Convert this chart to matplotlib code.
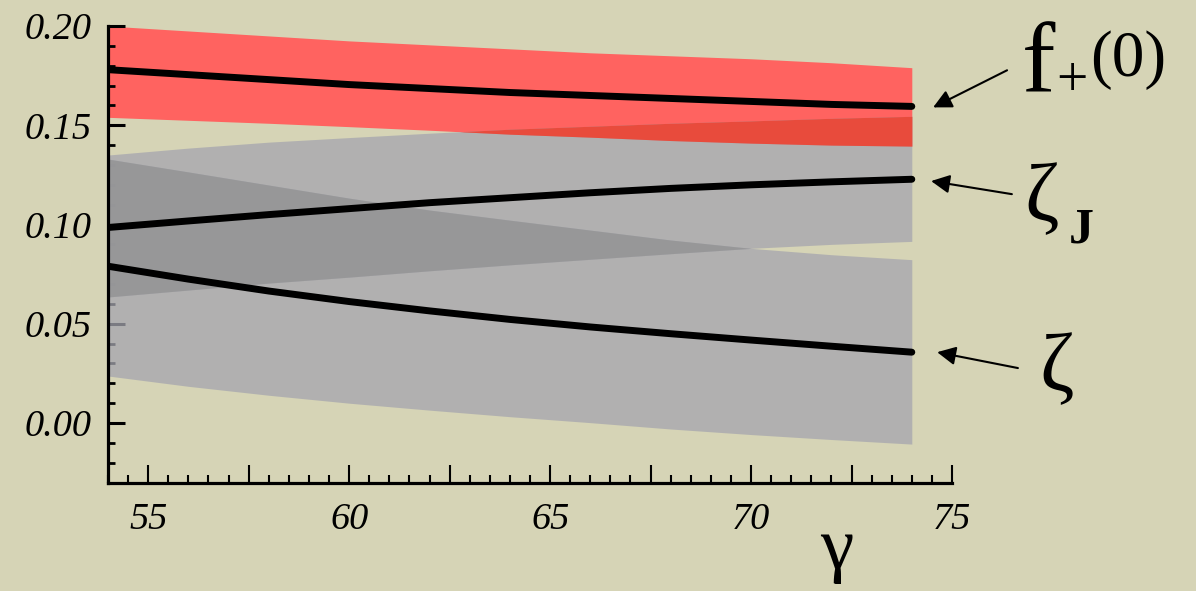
import numpy as np
import matplotlib
matplotlib.use("Agg")
import matplotlib.pyplot as plt
from matplotlib.ticker import MultipleLocator, FuncFormatter

# gamma values (degrees)
gamma = [54, 56, 58, 60, 62, 64, 66, 68, 70, 72, 74]

# f+(0)
fp_mid = [0.178, 0.1755, 0.173, 0.1705, 0.1685, 0.1665, 0.165, 0.1635, 0.162, 0.1605, 0.1595]
fp_hi = [0.200, 0.1975, 0.195, 0.1925, 0.1905, 0.1885, 0.1865, 0.185, 0.1835, 0.1815, 0.179]
fp_lo = [0.154, 0.1525, 0.151, 0.1493, 0.1475, 0.1455, 0.144, 0.1423, 0.141, 0.140, 0.1395]

# zeta_J
zj_mid = [0.0985, 0.1018, 0.105, 0.108, 0.111, 0.1135, 0.116, 0.1182, 0.120, 0.1215, 0.1228]
zj_hi = [0.135, 0.1385, 0.1415, 0.1438, 0.146, 0.148, 0.1495, 0.151, 0.1522, 0.1535, 0.1545]
zj_lo = [0.0635, 0.067, 0.0705, 0.0735, 0.0767, 0.0797, 0.0825, 0.0853, 0.088, 0.090, 0.0915]

# zeta
z_mid = [0.079, 0.0725, 0.0665, 0.0612, 0.0565, 0.0522, 0.0484, 0.045, 0.0418, 0.0387, 0.0357]
z_hi = [0.133, 0.1265, 0.1199, 0.1133, 0.1073, 0.1022, 0.0972, 0.0922, 0.088, 0.0848, 0.0823]
z_lo = [0.0237, 0.0185, 0.014, 0.010, 0.0065, 0.0032, 0.0002, -0.003, -0.0058, -0.0083, -0.0106]

BG = "#d6d4b6"
GREY = (165 / 255, 165 / 255, 175 / 255)
GREY_OVL = "#959595"
RED = "#ff6360"
RED_OVL = "#e84b3c"

W, H = 1196, 591
fig = plt.figure(figsize=(W / 100, H / 100), dpi=100, facecolor=BG)
ax = fig.add_axes([108 / W, 1 - 483 / H, (952 - 108) / W, (483 - 26) / H])
ax.set_facecolor("none")

g = np.array(gamma)

# bands
ax.fill_between(g, fp_lo, fp_hi, color=RED, lw=0, zorder=0.3)
ax.fill_between(g, z_lo, z_hi, color=GREY, alpha=0.75, lw=0, zorder=1)
ax.fill_between(g, zj_lo, zj_hi, color=GREY, alpha=0.75, lw=0, zorder=1)

# overlap zeta / zeta_J
ov_lo = np.maximum(z_lo, zj_lo)
ov_hi = np.minimum(z_hi, zj_hi)
ax.fill_between(g, ov_lo, ov_hi, where=ov_hi > ov_lo, interpolate=True,
                color=GREY_OVL, alpha=0.85, lw=0, zorder=1.1)

# overlap f+ / zeta_J
rv_lo = np.maximum(fp_lo, zj_lo)
rv_hi = np.minimum(fp_hi, zj_hi)
ax.fill_between(g, rv_lo, rv_hi, where=rv_hi > rv_lo, interpolate=True,
                color=RED_OVL, lw=0, zorder=1.2)

for ys in (fp_mid, zj_mid, z_mid):
    ax.plot(g, ys, color="black", lw=5, solid_capstyle="round", zorder=3)

ax.set_xlim(54, 75)
ax.set_ylim(-0.0302, 0.2)
ax.set_axisbelow(True)

for s in ("top", "right"):
    ax.spines[s].set_visible(False)
for s in ("left", "bottom"):
    ax.spines[s].set_linewidth(2.3)
    ax.spines[s].set_zorder(4)

ax.xaxis.set_major_locator(MultipleLocator(2.5))
ax.xaxis.set_minor_locator(MultipleLocator(0.5))
ax.xaxis.set_major_formatter(FuncFormatter(lambda v, p: "%d" % round(v) if abs(v / 5 - round(v / 5)) < 1e-6 else ""))
ax.yaxis.set_major_locator(MultipleLocator(0.05))
ax.yaxis.set_minor_locator(MultipleLocator(0.01))
ax.yaxis.set_major_formatter(FuncFormatter(lambda v, p: "%.2f" % v))

ax.tick_params(axis="y", which="major", direction="in", length=12, width=2.2, pad=12)
ax.tick_params(axis="y", which="minor", direction="in", length=5, width=2.0)
ax.tick_params(axis="x", which="major", direction="in", length=13, width=1.5, pad=14)
ax.tick_params(axis="x", which="minor", direction="in", length=6, width=1.5)

for lab in ax.get_xticklabels() + ax.get_yticklabels():
    lab.set_fontfamily("Liberation Serif")
    lab.set_fontstyle("italic")
    lab.set_fontsize(27.5)

# arrows
arr = dict(arrowstyle="-|>", lw=1.5, color="black", mutation_scale=28, shrinkA=0, shrinkB=0)
ax.annotate("", xy=(74.53, 0.159), xytext=(76.37, 0.1777), arrowprops=arr, annotation_clip=False)
ax.annotate("", xy=(74.48, 0.1219), xytext=(76.49, 0.1153), arrowprops=arr, annotation_clip=False)
ax.annotate("", xy=(74.63, 0.0357), xytext=(76.64, 0.0277), arrowprops=arr, annotation_clip=False)

def ftext(x, y, s, size, **kw):
    fig.text(x / W, 1 - y / H, s, fontsize=size, family="Liberation Serif", **kw)

ftext(1022, 93, "f", 72, ha="left", va="baseline")
ftext(1072, 82, "+", 40, ha="center", va="center")
ftext(1090, 60, "(0)", 47, ha="left", va="center")
ftext(1042, 200, "ζ", 60, ha="center", va="center")
ftext(1081, 231, "J", 36, ha="center", va="center", weight="bold")
ftext(1057, 370, "ζ", 60, ha="center", va="center")
ftext(837, 568, "γ", 54, ha="center", va="baseline")

fig.savefig("out.png", dpi=100, facecolor=BG)
